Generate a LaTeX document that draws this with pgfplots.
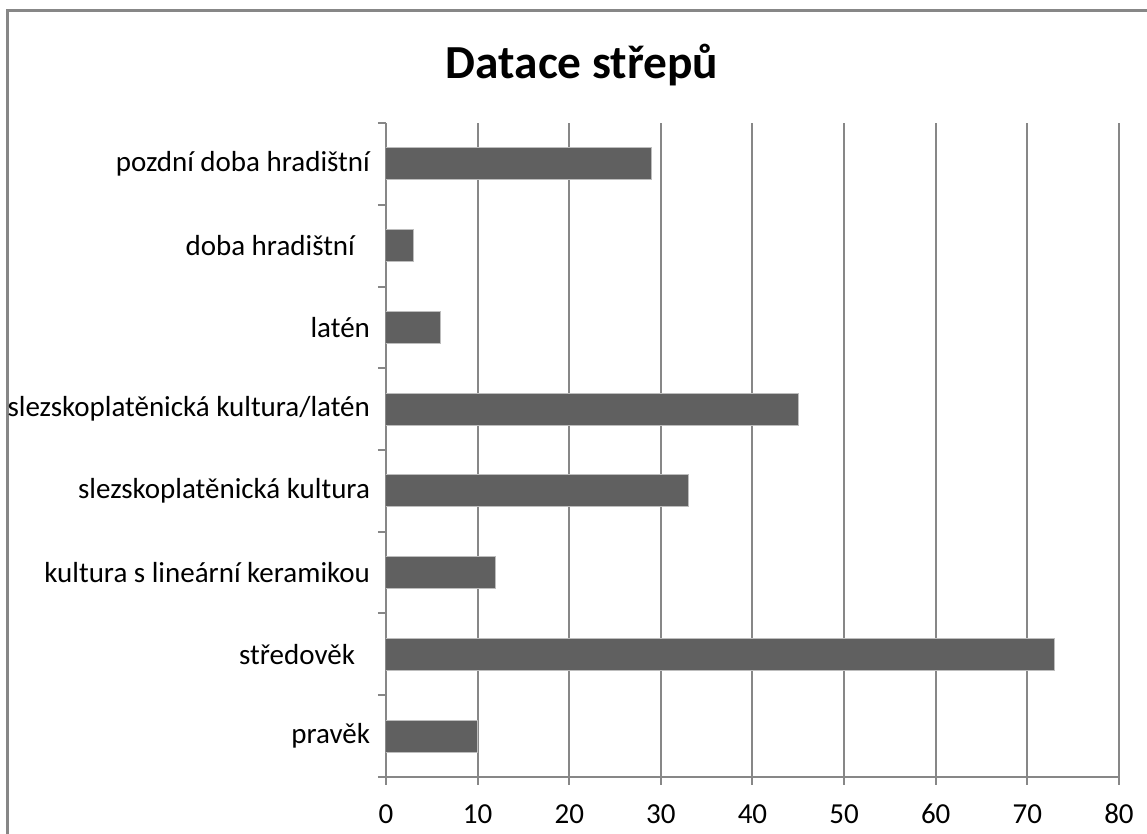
\documentclass[border=0pt]{standalone}
\usepackage{fontspec}
\setmainfont{Carlito}
\usepackage{pgfplots}
\pgfplotsset{compat=1.18}
\definecolor{barc}{HTML}{606060}
\definecolor{axc}{HTML}{878787}
\definecolor{edgec}{HTML}{BDBDBD}
\begin{document}
\begin{tikzpicture}
\path[use as bounding box] (0pt,0pt) rectangle (573.5pt,417pt);
\draw[axc, line width=1.3pt] (3.8pt,-5pt) -- (3.8pt,411.6pt) -- (580pt,411.6pt);
\node[anchor=base, font=\fontsize{23.7}{28}\selectfont\bfseries] at (291pt,377.5pt) {Datace střepů};
\begin{axis}[
  at={(193pt,28.5pt)}, anchor=south west,
  scale only axis, width=366.5pt, height=327pt,
  xbar,
  xmin=0, xmax=80, ymin=-0.5, ymax=7.5,
  xtick={0,10,...,80},
  ytick={0,...,7},
  yticklabels={pravěk, {středověk\rule{7.5pt}{0pt}}, kultura s lineární keramikou, slezskoplatěnická kultura, slezskoplatěnická kultura/latén, latén, {doba hradištní\rule{7.5pt}{0pt}}, pozdní doba hradištní},
  minor ytick={-0.5,0.5,...,7.5},
  xmajorgrids,
  major grid style={axc, line width=1pt},
  axis x line*=bottom, axis y line*=left,
  axis line style={axc, line width=1pt},
  tick align=outside,
  major tick length=4pt,
  minor tick length=4pt,
  every major y tick/.append style={draw=none},
  every minor y tick/.append style={axc, line width=1pt},
  every major x tick/.append style={axc, line width=1pt},
  tick label style={font=\fontsize{14.5}{17}\selectfont, text=black},
  /pgf/number format/assume math mode=true,
  xticklabel style={text height=9.3pt, text depth=0pt, inner sep=0pt, yshift=-10pt},
  yticklabel style={xshift=-0.5pt},
]
\addplot[fill=barc, draw=edgec, line width=0.5pt, bar width=16pt]
  coordinates {(10,0) (73,1) (12,2) (33,3) (45,4) (6,5) (3,6) (29,7)};
\end{axis}
\end{tikzpicture}
\end{document}
